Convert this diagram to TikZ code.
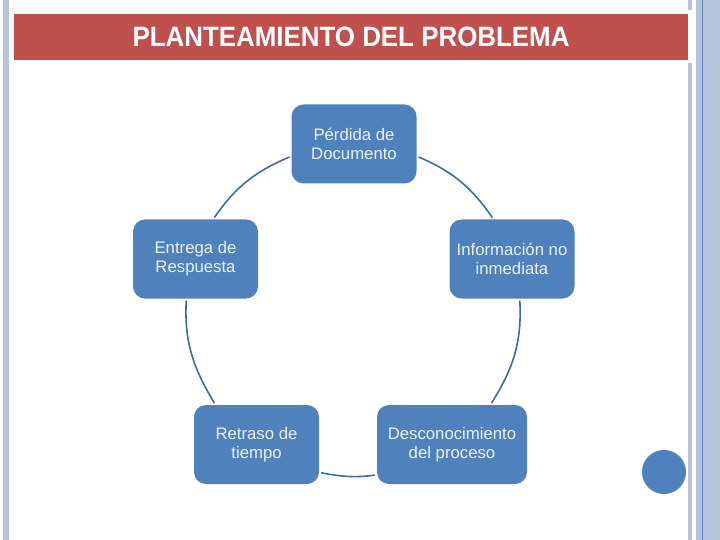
\documentclass[tikz,border=0pt]{standalone}
\usepackage{fontspec}
\setmainfont{Liberation Sans}
\usetikzlibrary{positioning}
\definecolor{titlered}{RGB}{192,80,77}
\definecolor{boxblue}{RGB}{79,129,189}
\definecolor{linkblue}{RGB}{62,106,165}
\definecolor{edgeblue}{RGB}{182,196,222}
\definecolor{edgedark}{RGB}{92,128,188}
\definecolor{boxtext}{RGB}{236,241,248}

\begin{document}
\begin{tikzpicture}[x=1bp, y=-1bp,
  stage/.style={fill=boxblue, rounded corners=12bp, minimum width=125bp, minimum height=79bp,
    inner sep=0pt, align=center, text=boxtext, font=\fontsize{16.8}{19}\selectfont},
  link/.style={draw=linkblue, line width=1.6bp, shorten <=2bp, shorten >=2bp}]
  \useasboundingbox (0,0) rectangle (720,540);
  % page edges
  \fill[edgeblue] (3,0) rectangle (9,540);
  \fill[edgeblue] (688,0) rectangle (692,10);
  \fill[edgeblue] (688,63) rectangle (692,540);
  \fill[edgeblue] (696,0) rectangle (720,540);
  \fill[edgedark] (702,0) rectangle (703,540);
  % title
  \node[fill=titlered, minimum width=674bp, minimum height=46bp, inner sep=0pt, text=white,
    font=\bfseries\fontsize{26}{30}\selectfont] (title) at (351,37) {\scalebox{1}[1.08]{PLANTEAMIENTO DEL PROBLEMA}};
  % cycle
  \node[stage] (perdida) at (354,144) {Pérdida de\\Documento};
  \node[stage] (entrega) at (195.5,259) {Entrega de\\Respuesta};
  \node[stage] (informacion) at (512,259) {Información no\\inmediata};
  \node[stage] (retraso) at (256.5,444.5) {Retraso de\\tiempo};
  \node[stage, minimum width=150bp] (desconocimiento) at (452,444.5) {Desconocimiento\\del proceso};
  \draw[link] (perdida.-11) to[out=-23, in=124.5] (informacion.115);
  \draw[link] (perdida.191) to[out=203, in=55.5] (entrega.66);
  \draw[link] (entrega.-103) to[out=267, in=121] (retraso.136);
  \draw[link] (retraso.-24) to[out=-10.7, in=187.6] (desconocimiento.202);
  \draw[link] (desconocimiento.46) to[out=57.5, in=-87] (informacion.-79);
  % corner dot
  \fill[boxblue] (664,472) circle (22);
\end{tikzpicture}
\end{document}
